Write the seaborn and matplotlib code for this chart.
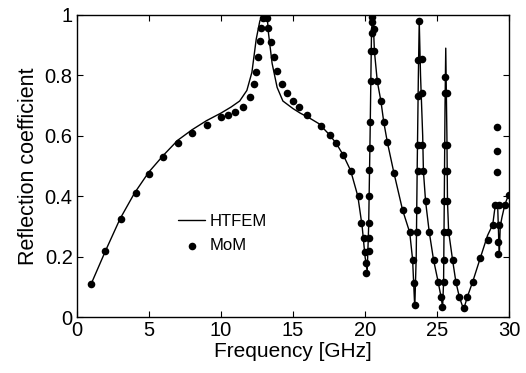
import numpy as np
import pandas as pd
import matplotlib
matplotlib.use("Agg")
import matplotlib.pyplot as plt
import seaborn as sns

# HTFEM curve (frequency in GHz, reflection coefficient)
htfem_f = [1.0, 2.0, 3.0, 4.0, 5.0, 6.0, 7.0, 8.0, 9.0, 10.0, 10.7, 11.3, 11.8, 12.15,
           12.45, 12.7, 12.9, 13.2, 13.3, 13.55, 13.9, 14.3, 15.0, 15.5, 16.1, 16.8,
           17.5, 18.0, 18.5, 19.0, 19.5, 19.8, 20.0, 20.15, 20.25, 20.35, 20.45, 20.55,
           20.65, 20.85, 21.1, 21.3, 21.55, 22.0, 22.6, 23.1, 23.3, 23.45, 23.55, 23.62,
           23.7, 23.76, 23.85, 24.0, 24.05, 24.2, 24.45, 24.75, 25.07, 25.3, 25.38, 25.45,
           25.5, 25.55, 25.6, 25.68, 25.72, 25.8, 26.07, 26.3, 26.54, 26.84, 27.1, 27.47,
           28.0, 28.5, 28.86, 29.04, 29.2, 29.28, 29.32, 29.38, 29.5, 29.7, 30.0]
htfem_r = [0.11, 0.22, 0.325, 0.41, 0.48, 0.535, 0.585, 0.62, 0.65, 0.675, 0.695, 0.715,
           0.75, 0.81, 0.92, 0.98, 1.0, 1.0, 0.94, 0.84, 0.76, 0.715, 0.69, 0.675, 0.66,
           0.64, 0.605, 0.575, 0.535, 0.485, 0.40, 0.30, 0.20, 0.15, 0.30, 0.60, 0.95, 1.0,
           0.88, 0.78, 0.715, 0.645, 0.578, 0.478, 0.355, 0.28, 0.19, 0.03, 0.20, 0.50,
           0.80, 0.98, 0.80, 0.60, 0.483, 0.383, 0.283, 0.19, 0.117, 0.06, 0.03, 0.117,
           0.40, 0.70, 0.89, 0.60, 0.383, 0.283, 0.19, 0.117, 0.067, 0.025, 0.067, 0.117,
           0.196, 0.27, 0.306, 0.372, 0.372, 0.25, 0.21, 0.30, 0.33, 0.372, 0.41]

# MoM samples
mom_f = [1.0, 1.95, 3.05, 4.1, 5.0, 6.0, 7.0, 8.0, 9.0, 10.0, 10.5, 11.0, 11.5, 12.0,
         12.3, 12.45, 12.55, 12.7, 12.8, 12.95, 13.05, 13.15, 13.2, 13.3, 13.45, 13.65,
         13.9, 14.25, 14.6, 15.0, 15.45, 16.0, 16.95, 17.55, 18.0, 18.5, 19.0, 19.55,
         19.75, 19.9, 20.0, 20.05, 20.1, 20.27, 20.27, 20.27, 20.27, 20.3, 20.32, 20.35,
         20.38, 20.42, 20.45, 20.48, 20.5, 20.6, 20.65, 20.85, 21.1, 21.3, 21.55, 22.0,
         22.6, 23.1, 23.3, 23.4, 23.47, 23.6, 23.6, 23.64, 23.64, 23.68, 23.68, 23.76,
         23.98, 23.98, 23.98, 24.05, 24.2, 24.45, 24.75, 25.07, 25.3, 25.35, 25.45, 25.47,
         25.5, 25.5, 25.55, 25.55, 25.55, 25.55, 25.68, 25.68, 25.7, 25.72, 25.75, 26.07,
         26.3, 26.54, 26.84, 27.1, 27.47, 28.0, 28.55, 28.86, 29.04, 29.3, 29.3, 29.25,
         29.25, 29.16, 29.16, 29.16, 29.7, 30.0]
mom_r = [0.11, 0.22, 0.325, 0.41, 0.475, 0.53, 0.577, 0.61, 0.637, 0.662, 0.67, 0.68,
         0.694, 0.727, 0.77, 0.81, 0.86, 0.915, 0.957, 0.99, 1.0, 1.0, 0.99, 0.957, 0.91,
         0.862, 0.815, 0.77, 0.74, 0.715, 0.694, 0.67, 0.632, 0.601, 0.575, 0.535, 0.483,
         0.40, 0.31, 0.26, 0.215, 0.18, 0.146, 0.40, 0.31, 0.26, 0.217, 0.488, 0.56, 0.645,
         0.78, 0.88, 0.94, 0.977, 0.994, 0.955, 0.88, 0.78, 0.715, 0.645, 0.578, 0.478,
         0.355, 0.28, 0.19, 0.113, 0.04, 0.28, 0.355, 0.483, 0.57, 0.73, 0.85, 0.98,
         0.855, 0.74, 0.57, 0.483, 0.383, 0.283, 0.19, 0.117, 0.067, 0.034, 0.117, 0.19,
         0.283, 0.383, 0.483, 0.57, 0.74, 0.795, 0.74, 0.57, 0.483, 0.383, 0.283, 0.19,
         0.117, 0.067, 0.03, 0.067, 0.117, 0.196, 0.256, 0.306, 0.372, 0.372, 0.306, 0.25,
         0.21, 0.63, 0.55, 0.48, 0.372, 0.405]

x_ticks = [0, 5, 10, 15, 20, 25, 30]
y_ticks = [0, 0.2, 0.4, 0.6, 0.8, 1.0]
y_tick_labels = ["0", "0.2", "0.4", "0.6", "0.8", "1"]

sns.set_style("ticks")
plt.rcParams["font.family"] = ["Liberation Sans", "DejaVu Sans"]

htfem = pd.DataFrame({"f": htfem_f, "r": htfem_r})
mom = pd.DataFrame({"f": mom_f, "r": mom_r})

fig = plt.figure(figsize=(5.26, 3.73), dpi=100)
ax = fig.add_axes([0.146, 0.150, 0.822, 0.810])

sns.lineplot(data=htfem, x="f", y="r", sort=False, estimator=None, ax=ax,
             color="black", linewidth=1.0, label="HTFEM")
sns.scatterplot(data=mom, x="f", y="r", ax=ax, color="black", s=30,
                edgecolor="black", linewidth=0, label="MoM", zorder=3)

ax.set_xlim(0, 30)
ax.set_ylim(0, 1)
ax.set_xticks(x_ticks)
ax.set_xticklabels([str(t) for t in x_ticks])
ax.set_yticks(y_ticks)
ax.set_yticklabels(y_tick_labels)
ax.tick_params(direction="in", top=True, right=True, labelsize=14.5,
               length=4, width=0.8, pad=3, colors="black")
for s in ax.spines.values():
    s.set_visible(True)
    s.set_linewidth(1.0)
    s.set_color("black")

ax.set_xlabel("Frequency [GHz]", fontsize=15, labelpad=1, color="black")
ax.set_ylabel("Reflection coefficient", fontsize=15.5, labelpad=4, color="black")

leg = ax.legend(frameon=False, loc="upper left", bbox_to_anchor=(0.2, 0.39),
                fontsize=12, handlelength=1.6, handletextpad=0.3, labelspacing=0.55,
                markerscale=1.0)
for t in leg.get_texts():
    t.set_color("black")

fig.savefig("out.png", dpi=100)
